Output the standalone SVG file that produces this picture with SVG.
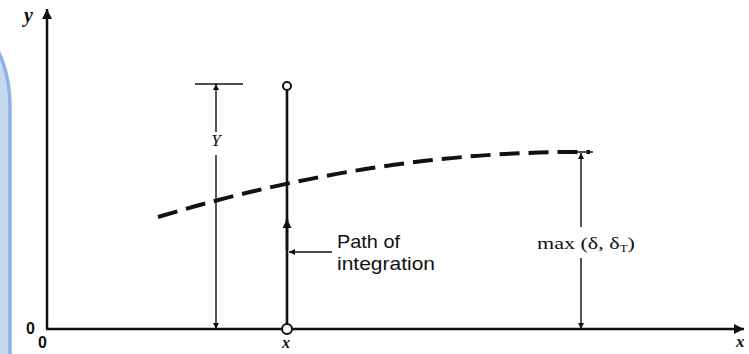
<svg xmlns="http://www.w3.org/2000/svg" width="749" height="354" viewBox="0 0 749 354">
<style>
.ax{stroke:#111;stroke-width:2.5;fill:none}
.dim{stroke:#111;stroke-width:1.4;fill:none}
.path{stroke:#111;stroke-width:2.6;fill:none}
.sans{font-family:"Liberation Sans",Arial,sans-serif;fill:#111}
.serif{font-family:"Liberation Serif","Times New Roman",serif;fill:#111}
.it{font-style:italic}
</style>
<defs>
<marker id="aBig" viewBox="0 0 10 10" refX="10" refY="5" markerWidth="16" markerHeight="10" orient="auto" markerUnits="userSpaceOnUse"><path d="M0,0 L10,5 L0,10 z" fill="#111"/></marker>
<marker id="aMid" viewBox="0 0 10 10" refX="10" refY="5" markerWidth="15" markerHeight="9" orient="auto" markerUnits="userSpaceOnUse"><path d="M0,0 L10,5 L0,10 z" fill="#111"/></marker>
<marker id="aSm" viewBox="0 0 10 10" refX="10" refY="5" markerWidth="10" markerHeight="6" orient="auto" markerUnits="userSpaceOnUse"><path d="M0,0 L10,5 L0,10 z" fill="#111"/></marker>
</defs>
<rect width="749" height="354" fill="#fff"/>
<rect id="sidebar" x="-200" y="28" width="210" height="500" rx="40" ry="80" fill="#c6d9f1" stroke="#8db3e2" stroke-width="3.5"/>
<g id="axes">
<line class="ax" x1="47" y1="329" x2="47" y2="9" marker-end="url(#aBig)"/>
<line class="ax" x1="46" y1="329" x2="744" y2="329" marker-end="url(#aBig)"/>
<text class="serif it" x="24" y="22" font-size="20" font-weight="bold">y</text>
<text class="sans" x="26" y="334" font-size="16" font-weight="bold">0</text>
<text class="sans" x="38" y="348" font-size="16" font-weight="bold">0</text>
<text class="serif it" x="736" y="347" font-size="17" font-weight="bold">x</text>
</g>
<g id="boundary-layer">
<path d="M158,217 Q380,150 590,152" fill="none" stroke="#111" stroke-width="4" stroke-dasharray="20,9"/>
</g>
<g id="dimension-Y">
<line class="dim" x1="195" y1="84" x2="243" y2="84"/>
<line class="dim" x1="216" y1="132" x2="216" y2="84" marker-end="url(#aSm)"/>
<line class="dim" x1="216" y1="155" x2="216" y2="329" marker-end="url(#aSm)"/>
<text class="serif it" x="216" y="146" font-size="17" text-anchor="middle">Y</text>
</g>
<g id="integration-path">
<line class="path" x1="287" y1="90" x2="287" y2="325"/>
<line class="path" x1="287" y1="250" x2="287" y2="219" marker-end="url(#aMid)"/>
<circle cx="287" cy="86" r="4" fill="#fff" stroke="#111" stroke-width="2"/>
<circle cx="287" cy="329" r="5" fill="#fff" stroke="#111" stroke-width="2"/>
<text class="serif it" x="286" y="348" font-size="16" font-weight="bold" text-anchor="middle">x</text>
</g>
<g id="connectors">
<line class="dim" x1="332" y1="252" x2="289" y2="252" marker-end="url(#aSm)"/>
</g>
<g id="label-path">
<text class="sans" x="337" y="248" font-size="19" textLength="63" lengthAdjust="spacingAndGlyphs">Path of</text>
<text class="sans" x="337" y="270" font-size="19" textLength="98" lengthAdjust="spacingAndGlyphs">integration</text>
</g>
<g id="dimension-max">
<line class="dim" x1="568" y1="152" x2="593" y2="152" stroke-width="3"/>
<line class="dim" x1="581" y1="227" x2="581" y2="153" marker-end="url(#aSm)"/>
<line class="dim" x1="581" y1="258" x2="581" y2="329" marker-end="url(#aSm)"/>
<text class="serif" x="537" y="249" font-size="17" textLength="98" lengthAdjust="spacingAndGlyphs">max (δ, δ<tspan font-size="10" dy="3">T</tspan><tspan dy="-3">)</tspan></text>
</g>
</svg>
